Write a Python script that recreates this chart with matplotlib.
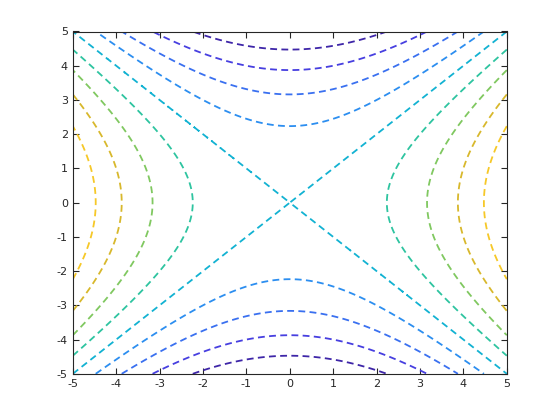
import numpy as np
import matplotlib.pyplot as plt

plt.rcParams['axes.unicode_minus'] = False

# contour levels and the colour drawn for each one
levels = [-20, -15, -10, -5, 0, 5, 10, 15, 20]
level_colors = ['#3e26a8', '#473fe0', '#3a70f0', '#2c8ef0', '#12b2d2',
                '#2ec4a0', '#80c860', '#d8b82c', '#f6c828']
ticks = [-5, -4, -3, -2, -1, 0, 1, 2, 3, 4, 5]

# surface z = x^2 - y^2 on a grid
x = np.linspace(-5, 5, 201)
y = np.linspace(-5, 5, 201)
X, Y = np.meshgrid(x, y)
Z = X**2 - Y**2

fig = plt.figure(figsize=(5.6, 4.2), dpi=100)
ax = fig.add_axes([0.13, 0.11, 0.775, 0.815])
ax.contour(X, Y, Z, levels=levels, colors=level_colors,
           linewidths=1.3, linestyles=[(0, (3.8, 2.4))])

ax.set_xlim(-5, 5)
ax.set_ylim(-5, 5)
ax.set_xticks(ticks)
ax.set_yticks(ticks)
ax.tick_params(direction='in', top=True, right=True, length=4,
               labelsize=8, colors='#262626')
for s in ax.spines.values():
    s.set_color('#262626')
    s.set_linewidth(0.8)

fig.savefig('out.png', dpi=100)
